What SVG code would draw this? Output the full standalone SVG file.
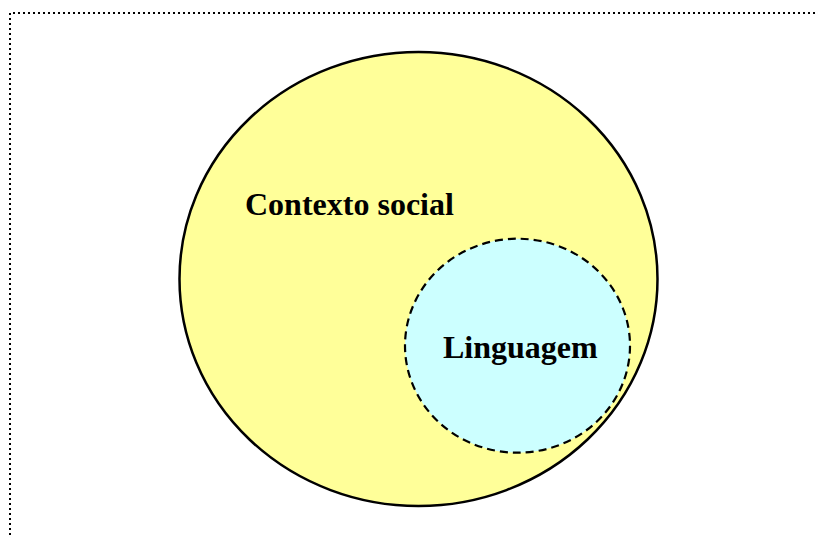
<svg xmlns="http://www.w3.org/2000/svg" width="817" height="538" viewBox="0 0 817 538">
<style>
.frame{fill:none;stroke:#000;stroke-width:2;stroke-dasharray:2 3}
.lbl{font-family:"Liberation Serif","Times New Roman",serif;font-weight:bold;font-size:32px;fill:#000}
</style>
<rect width="817" height="538" fill="#fff"/>
<path class="frame" d="M10 560 V13 H816"/>
<g id="contexto-social">
<ellipse cx="418.5" cy="279" rx="239" ry="227" fill="#FFFF99" stroke="#000" stroke-width="2.5"/>
<text class="lbl" x="245" y="215">Contexto social</text>
</g>
<g id="linguagem">
<ellipse cx="517.5" cy="345.7" rx="112.5" ry="107" fill="#CCFFFF" stroke="#000" stroke-width="2.2" stroke-dasharray="8 5"/>
<text class="lbl" x="443" y="358">Linguagem</text>
</g>
<g id="connectors"/>
</svg>
